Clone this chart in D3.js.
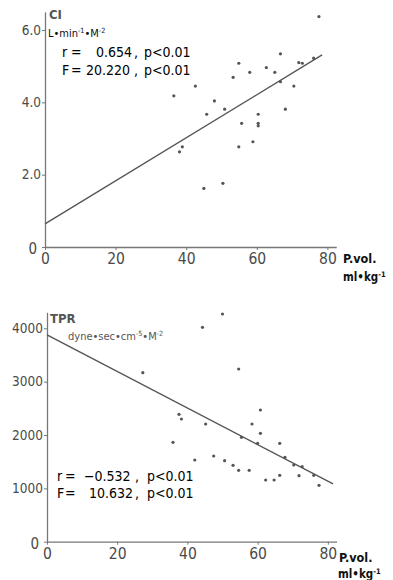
<!DOCTYPE html>
<html>
<head>
<meta charset="utf-8">
<script src="https://cdn.jsdelivr.net/npm/d3@7"></script>
<style>
  body { margin: 0; background: #fff; }
  text { font-family: "DejaVu Sans Condensed", "DejaVu Sans", sans-serif; }
</style>
</head>
<body>
<div id="chart"></div>
<script>
// ---- data ----
// top panel: CI vs P.vol.
var ciX = [77.6, 66.7, 71.9, 72.9, 76.1, 54.9, 62.7, 58.0, 65.1, 53.3, 66.7, 42.6, 70.5, 36.5,
           48.0, 45.8, 50.9, 60.4, 68.1, 55.7, 60.4, 60.4, 38.9, 38.1, 54.9, 58.9, 45.0, 50.4];
var ciY = [6.37, 5.34, 5.10, 5.08, 5.22, 5.08, 4.96, 4.83, 4.83, 4.69, 4.57, 4.45, 4.45, 4.18,
           4.04, 3.67, 3.81, 3.67, 3.81, 3.42, 3.42, 3.35, 2.77, 2.63, 2.77, 2.91, 1.62, 1.76];
var ciFitX = [0, 78.5];
var ciFitY = [0.64, 5.31];
var ciTicks = [0, 2, 4, 6];
var ciTickLabels = ["0", "2.0", "4.0", "6.0"];

// bottom panel: TPR vs P.vol.
var tprX = [50.0, 44.3, 27.3, 54.6, 60.8, 37.6, 38.3, 45.2, 58.4, 60.8, 55.4, 60.0, 66.3, 35.9, 67.8,
            70.3, 72.7, 76.0, 71.8, 77.5, 66.3, 62.3, 64.7, 57.6, 54.6, 53.0, 50.6, 47.5, 42.1];
var tprY = [4268, 4019, 3168, 3237, 2469, 2388, 2300, 2206, 2206, 2032, 1957, 1844, 1844, 1863, 1582,
            1438, 1406, 1245, 1237, 1057, 1245, 1157, 1157, 1338, 1338, 1432, 1518, 1606, 1531];
var tprFitX = [0, 81.5];
var tprFitY = [3875, 1082];
var tprTicks = [0, 1000, 2000, 3000, 4000];
var tprTickLabels = ["0", "1000", "2000", "3000", "4000"];

var xTicks = [0, 20, 40, 60, 80];

var svg = d3.select("#chart")
  .append("svg")
  .attr("width", 393)
  .attr("height", 580);

function drawPanel(p) {
  var g = svg.append("g");

  var x = d3.scaleLinear().domain([0, 82.5]).range([p.left, p.left + 82.5 * p.xUnit]);
  var y = d3.scaleLinear().domain([0, p.yMax]).range([p.bottom, p.top]);

  // y axis
  var yAxis = g.append("g")
    .attr("transform", `translate(${p.left}, 0)`)
    .call(d3.axisLeft(y)
      .tickValues(p.yTicks)
      .tickFormat((d, i) => p.yLabels[i])
      .tickSize(3)
      .tickSizeOuter(0)
      .tickPadding(1));
  yAxis.selectAll("text")
    .attr("font-family", "DejaVu Sans Condensed, DejaVu Sans, sans-serif")
    .attr("font-size", "13.5px")
    .attr("fill", "#4a4a4a");
  yAxis.selectAll("text").filter(d => d === 0)
    .attr("dx", "-4")
    .attr("dy", "0.45em")
    .attr("font-size", "15px");

  // x axis
  var xAxis = g.append("g")
    .attr("transform", `translate(0, ${p.bottom})`)
    .call(d3.axisBottom(x)
      .tickValues(xTicks)
      .tickSize(3)
      .tickSizeOuter(0)
      .tickPadding(3));
  xAxis.selectAll("text")
    .attr("font-family", "DejaVu Sans Condensed, DejaVu Sans, sans-serif")
    .attr("font-size", "15.5px")
    .attr("fill", "#4a4a4a");

  g.selectAll(".domain").attr("stroke", "#777").attr("stroke-width", 1.3);
  g.selectAll(".tick line").attr("stroke", "#777");

  // regression line
  g.append("line")
    .attr("x1", x(p.fitX[0])).attr("y1", y(p.fitY[0]))
    .attr("x2", x(p.fitX[1])).attr("y2", y(p.fitY[1]))
    .attr("stroke", "#555")
    .attr("stroke-width", 1.4);

  // points
  g.selectAll("circle")
    .data(p.xs)
    .enter()
    .append("circle")
    .attr("cx", d => x(d))
    .attr("cy", (d, i) => y(p.ys[i]))
    .attr("r", 1.6)
    .attr("fill", "#555");

  return g;
}

var topPanel = drawPanel({
  left: 45, xUnit: 3.53, bottom: 247, top: 11.9, yMax: 6.5,
  yTicks: ciTicks, yLabels: ciTickLabels,
  xs: ciX, ys: ciY, fitX: ciFitX, fitY: ciFitY
});

var botPanel = drawPanel({
  left: 47, xUnit: 3.51, bottom: 541.7, top: 312.3, yMax: 4300,
  yTicks: tprTicks, yLabels: tprTickLabels,
  xs: tprX, ys: tprY, fitX: tprFitX, fitY: tprFitY
});

// text with superscripts: parts = [[text, isSup], ...]
function supText(g, xpos, ypos, parts, size, color, weight) {
  var t = g.append("text")
    .attr("x", xpos)
    .attr("y", ypos)
    .attr("font-size", size + "px")
    .attr("fill", color)
    .attr("font-weight", weight || "normal");
  parts.forEach(function(pt) {
    var s = t.append("tspan").text(pt[0]);
    if (pt[1]) {
      s.attr("baseline-shift", "super").attr("font-size", (size * 0.65) + "px");
    }
  });
  return t;
}

// ---- top panel labels ----
topPanel.append("text").attr("x", 49).attr("y", 19).attr("font-size", "13px")
  .attr("font-weight", "bold").attr("fill", "#555").text("CI");
supText(topPanel, 48, 37, [["L•min", false], ["-1", true], ["•M", false], ["-2", true]], 11, "#111");

function statLine(g, ypos, pieces) {
  pieces.forEach(function(pc) {
    g.append("text")
      .attr("x", pc[0])
      .attr("y", ypos)
      .attr("font-size", "14px")
      .attr("fill", "#000")
      .text(pc[1]);
  });
}
statLine(topPanel, 57, [[62, "r"], [71, "="], [96, "0.654"], [134, ","], [144, "p<0.01"]]);
statLine(topPanel, 75, [[62, "F"], [71, "="], [86, "20.220"], [134, ","], [144, "p<0.01"]]);

topPanel.append("text").attr("x", 343).attr("y", 263).attr("font-size", "12.5px").attr("font-weight", "bold")
  .attr("fill", "#111").text("P.vol.");
supText(topPanel, 343, 281, [["ml•kg", false], ["-1", true]], 11.5, "#111", "bold");

// ---- bottom panel labels ----
botPanel.append("text").attr("x", 50).attr("y", 323).attr("font-size", "13px")
  .attr("font-weight", "bold").attr("fill", "#555").text("TPR");
supText(botPanel, 68, 340, [["dyne•sec•cm", false], ["-5", true], ["•M", false], ["-2", true]], 11, "#555");

statLine(botPanel, 481, [[57, "r"], [65, "="], [84, "−0.532"], [135, ","], [147, "p<0.01"]]);
statLine(botPanel, 498, [[57, "F"], [65, "="], [89, "10.632"], [135, ","], [147, "p<0.01"]]);

botPanel.append("text").attr("x", 339).attr("y", 562).attr("font-size", "12.5px").attr("font-weight", "bold")
  .attr("fill", "#111").text("P.vol.");
supText(botPanel, 338, 578, [["ml•kg", false], ["-1", true]], 11.5, "#111", "bold");
</script>
</body>
</html>
